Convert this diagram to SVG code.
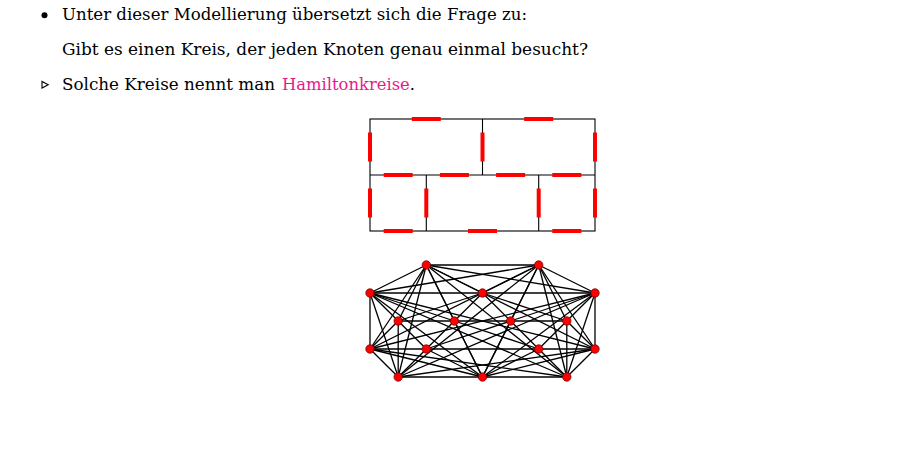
<svg xmlns="http://www.w3.org/2000/svg" width="916" height="449" viewBox="0 0 916 449">
<style>
.t{font-family:"DejaVu Serif","Liberation Serif",serif;font-size:17px;fill:#000}
.al{fill:#E8198B}
.wall{stroke:#000;stroke-width:1.1;fill:none}
.door{stroke:#FF0000;stroke-width:4;fill:none}
.e{stroke:#000;stroke-width:1.3}
.n{fill:#FF0000;stroke:#700;stroke-width:0.8}
</style>
<rect width="916" height="449" fill="#fff"/>
<g id="text">
<circle cx="44.5" cy="15.2" r="3" fill="#000"/>
<text class="t" x="62" y="20" textLength="465" lengthAdjust="spacingAndGlyphs">Unter dieser Modellierung übersetzt sich die Frage zu:</text>
<text class="t" x="62" y="54.5" textLength="526" lengthAdjust="spacingAndGlyphs">Gibt es einen Kreis, der jeden Knoten genau einmal besucht?</text>
<polygon points="42,81.5 42,88 48.2,84.8" fill="none" stroke="#000" stroke-width="1.1"/>
<text class="t" x="62" y="90" textLength="213" lengthAdjust="spacingAndGlyphs">Solche Kreise nennt man</text>
<text class="t" x="282" y="90" textLength="133" lengthAdjust="spacingAndGlyphs"><tspan class="al">Hamiltonkreise</tspan>.</text>
</g>
<g id="floorplan">
<rect class="wall" x="370" y="119" width="225" height="112"/>
<line class="wall" x1="370" y1="175" x2="595" y2="175"/>
<line class="wall" x1="482.5" y1="119" x2="482.5" y2="175"/>
<line class="wall" x1="426.3" y1="175" x2="426.3" y2="231"/>
<line class="wall" x1="538.7" y1="175" x2="538.7" y2="231"/>
<g id="doors">
<line class="door" x1="411.8" y1="119" x2="440.8" y2="119"/>
<line class="door" x1="524.2" y1="119" x2="553.2" y2="119"/>
<line class="door" x1="370" y1="132.5" x2="370" y2="161.5"/>
<line class="door" x1="482.5" y1="132.5" x2="482.5" y2="161.5"/>
<line class="door" x1="595" y1="132.5" x2="595" y2="161.5"/>
<line class="door" x1="383.7" y1="175" x2="412.7" y2="175"/>
<line class="door" x1="439.9" y1="175" x2="468.9" y2="175"/>
<line class="door" x1="496.1" y1="175" x2="525.1" y2="175"/>
<line class="door" x1="552.3" y1="175" x2="581.3" y2="175"/>
<line class="door" x1="370" y1="188.5" x2="370" y2="217.5"/>
<line class="door" x1="426.3" y1="188.5" x2="426.3" y2="217.5"/>
<line class="door" x1="538.7" y1="188.5" x2="538.7" y2="217.5"/>
<line class="door" x1="595" y1="188.5" x2="595" y2="217.5"/>
<line class="door" x1="383.7" y1="231" x2="412.7" y2="231"/>
<line class="door" x1="468" y1="231" x2="497" y2="231"/>
<line class="door" x1="552.3" y1="231" x2="581.3" y2="231"/>
</g>
</g>
<g id="connectors">
<line class="e" x1="426.3" y1="265" x2="538.7" y2="265"/>
<line class="e" x1="426.3" y1="265" x2="370" y2="293"/>
<line class="e" x1="426.3" y1="265" x2="595" y2="293"/>
<line class="e" x1="426.3" y1="265" x2="370" y2="349"/>
<line class="e" x1="426.3" y1="265" x2="595" y2="349"/>
<line class="e" x1="426.3" y1="265" x2="398.2" y2="377"/>
<line class="e" x1="426.3" y1="265" x2="482.5" y2="377"/>
<line class="e" x1="426.3" y1="265" x2="566.8" y2="377"/>
<line class="e" x1="538.7" y1="265" x2="370" y2="293"/>
<line class="e" x1="538.7" y1="265" x2="595" y2="293"/>
<line class="e" x1="538.7" y1="265" x2="370" y2="349"/>
<line class="e" x1="538.7" y1="265" x2="595" y2="349"/>
<line class="e" x1="538.7" y1="265" x2="398.2" y2="377"/>
<line class="e" x1="538.7" y1="265" x2="482.5" y2="377"/>
<line class="e" x1="538.7" y1="265" x2="566.8" y2="377"/>
<line class="e" x1="370" y1="293" x2="595" y2="293"/>
<line class="e" x1="370" y1="293" x2="370" y2="349"/>
<line class="e" x1="370" y1="293" x2="595" y2="349"/>
<line class="e" x1="370" y1="293" x2="398.2" y2="377"/>
<line class="e" x1="370" y1="293" x2="482.5" y2="377"/>
<line class="e" x1="370" y1="293" x2="566.8" y2="377"/>
<line class="e" x1="595" y1="293" x2="370" y2="349"/>
<line class="e" x1="595" y1="293" x2="595" y2="349"/>
<line class="e" x1="595" y1="293" x2="398.2" y2="377"/>
<line class="e" x1="595" y1="293" x2="482.5" y2="377"/>
<line class="e" x1="595" y1="293" x2="566.8" y2="377"/>
<line class="e" x1="370" y1="349" x2="595" y2="349"/>
<line class="e" x1="370" y1="349" x2="398.2" y2="377"/>
<line class="e" x1="370" y1="349" x2="482.5" y2="377"/>
<line class="e" x1="370" y1="349" x2="566.8" y2="377"/>
<line class="e" x1="595" y1="349" x2="398.2" y2="377"/>
<line class="e" x1="595" y1="349" x2="482.5" y2="377"/>
<line class="e" x1="595" y1="349" x2="566.8" y2="377"/>
<line class="e" x1="398.2" y1="377" x2="566.8" y2="377"/>
<line class="e" x1="426.3" y1="265" x2="482.5" y2="293"/>
<line class="e" x1="426.3" y1="265" x2="398.2" y2="321"/>
<line class="e" x1="426.3" y1="265" x2="454.4" y2="321"/>
<line class="e" x1="370" y1="293" x2="398.2" y2="321"/>
<line class="e" x1="370" y1="293" x2="454.4" y2="321"/>
<line class="e" x1="482.5" y1="293" x2="398.2" y2="321"/>
<line class="e" x1="482.5" y1="293" x2="454.4" y2="321"/>
<line class="e" x1="398.2" y1="321" x2="454.4" y2="321"/>
<line class="e" x1="538.7" y1="265" x2="482.5" y2="293"/>
<line class="e" x1="538.7" y1="265" x2="510.6" y2="321"/>
<line class="e" x1="538.7" y1="265" x2="566.8" y2="321"/>
<line class="e" x1="482.5" y1="293" x2="510.6" y2="321"/>
<line class="e" x1="482.5" y1="293" x2="566.8" y2="321"/>
<line class="e" x1="595" y1="293" x2="510.6" y2="321"/>
<line class="e" x1="595" y1="293" x2="566.8" y2="321"/>
<line class="e" x1="510.6" y1="321" x2="566.8" y2="321"/>
<line class="e" x1="398.2" y1="321" x2="370" y2="349"/>
<line class="e" x1="398.2" y1="321" x2="426.3" y2="349"/>
<line class="e" x1="398.2" y1="321" x2="398.2" y2="377"/>
<line class="e" x1="426.3" y1="349" x2="398.2" y2="377"/>
<line class="e" x1="454.4" y1="321" x2="510.6" y2="321"/>
<line class="e" x1="454.4" y1="321" x2="426.3" y2="349"/>
<line class="e" x1="454.4" y1="321" x2="538.7" y2="349"/>
<line class="e" x1="454.4" y1="321" x2="482.5" y2="377"/>
<line class="e" x1="510.6" y1="321" x2="426.3" y2="349"/>
<line class="e" x1="510.6" y1="321" x2="538.7" y2="349"/>
<line class="e" x1="510.6" y1="321" x2="482.5" y2="377"/>
<line class="e" x1="426.3" y1="349" x2="482.5" y2="377"/>
<line class="e" x1="538.7" y1="349" x2="482.5" y2="377"/>
<line class="e" x1="566.8" y1="321" x2="538.7" y2="349"/>
<line class="e" x1="566.8" y1="321" x2="595" y2="349"/>
<line class="e" x1="566.8" y1="321" x2="566.8" y2="377"/>
<line class="e" x1="538.7" y1="349" x2="566.8" y2="377"/>
</g>
<g id="nodes">
<g id="T1"><circle class="n" cx="426.3" cy="265" r="4.2"/></g>
<g id="T2"><circle class="n" cx="538.7" cy="265" r="4.2"/></g>
<g id="L1"><circle class="n" cx="370" cy="293" r="4.2"/></g>
<g id="V1"><circle class="n" cx="482.5" cy="293" r="4.2"/></g>
<g id="R1"><circle class="n" cx="595" cy="293" r="4.2"/></g>
<g id="H1"><circle class="n" cx="398.2" cy="321" r="4.2"/></g>
<g id="H2"><circle class="n" cx="454.4" cy="321" r="4.2"/></g>
<g id="H3"><circle class="n" cx="510.6" cy="321" r="4.2"/></g>
<g id="H4"><circle class="n" cx="566.8" cy="321" r="4.2"/></g>
<g id="L2"><circle class="n" cx="370" cy="349" r="4.2"/></g>
<g id="V2"><circle class="n" cx="426.3" cy="349" r="4.2"/></g>
<g id="V3"><circle class="n" cx="538.7" cy="349" r="4.2"/></g>
<g id="R2"><circle class="n" cx="595" cy="349" r="4.2"/></g>
<g id="B1"><circle class="n" cx="398.2" cy="377" r="4.2"/></g>
<g id="B2"><circle class="n" cx="482.5" cy="377" r="4.2"/></g>
<g id="B3"><circle class="n" cx="566.8" cy="377" r="4.2"/></g>
</g>
</svg>
